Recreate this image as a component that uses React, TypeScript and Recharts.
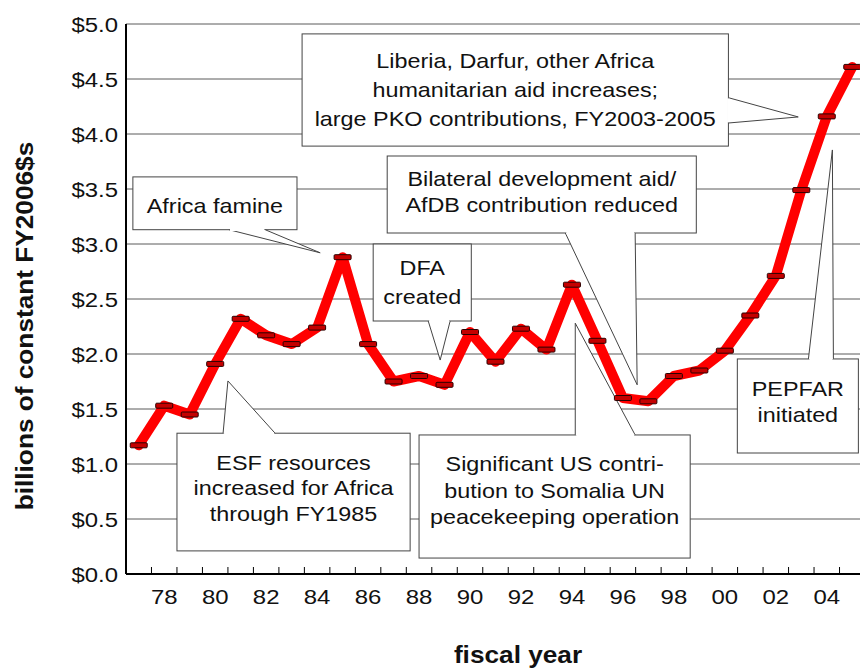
import React from "react";
import { ComposedChart, Line, XAxis, YAxis, CartesianGrid, ReferenceArea, Label } from "recharts";

// US assistance to Africa, billions of constant FY2006 dollars
const fiscalYears = [
  1977, 1978, 1979, 1980, 1981, 1982, 1983, 1984, 1985, 1986,
  1987, 1988, 1989, 1990, 1991, 1992, 1993, 1994, 1995, 1996,
  1997, 1998, 1999, 2000, 2001, 2002, 2003, 2004, 2005,
];
const aidBillions = [
  1.17, 1.53, 1.45, 1.91, 2.32, 2.17, 2.09, 2.24, 2.88, 2.09,
  1.75, 1.8, 1.72, 2.2, 1.93, 2.23, 2.04, 2.63, 2.12, 1.6,
  1.57, 1.8, 1.85, 2.03, 2.35, 2.71, 3.49, 4.16, 4.61,
];
const yTicks = [0, 0.5, 1, 1.5, 2, 2.5, 3, 3.5, 4, 4.5, 5];
const labelYears = [1978, 1980, 1982, 1984, 1986, 1988, 1990, 1992, 1994, 1996, 1998, 2000, 2002, 2004];

const data = fiscalYears.map((year, i) => ({ year, value: aidBillions[i] }));
// tick marks sit on the boundaries between years, labels on even years
const xTicks = [...fiscalYears.slice(1).map((y) => y - 0.5), ...labelYears].sort((a, b) => a - b);

const FONT = "'Liberation Sans', Arial, Helvetica, sans-serif";
const SX = 1.14; // the source font runs a bit wider than Arial

type Callout = {
  lines: string[];
  x1: number;
  x2: number;
  top: number;
  bottom: number;
  tail: [number, number][]; // base, tip, base (year, value)
  gap: number;
  dy: number;
};

const callouts: Callout[] = [
  {
    lines: ["Africa famine"],
    x1: 1976.77, x2: 1983.21, top: 3.61, bottom: 3.13,
    tail: [[1980.54, 3.13], [1984.12, 2.92], [1981.96, 3.13]],
    gap: 0, dy: 2,
  },
  {
    lines: ["Liberia, Darfur, other Africa", "humanitarian aid increases;", "large PKO contributions, FY2003-2005"],
    x1: 1983.41, x2: 2000.14, top: 4.91, bottom: 3.89,
    tail: [[2000.14, 4.33], [2002.88, 4.155], [2000.14, 4.1]],
    gap: 29, dy: 0,
  },
  {
    lines: ["Bilateral development aid/", "AfDB contribution reduced"],
    x1: 1986.75, x2: 1998.88, top: 3.8, bottom: 3.1,
    tail: [[1993.74, 3.1], [1996.56, 1.72], [1996.48, 3.1]],
    gap: 26, dy: -3,
  },
  {
    lines: ["DFA", "created"],
    x1: 1986.2, x2: 1990.05, top: 3.0, bottom: 2.3,
    tail: [[1988.36, 2.3], [1988.83, 1.945], [1989.22, 2.3]],
    gap: 29, dy: 0,
  },
  {
    lines: ["ESF resources", "increased for Africa", "through FY1985"],
    x1: 1978.5, x2: 1987.65, top: 1.28, bottom: 0.21,
    tail: [[1980.31, 1.28], [1980.5, 1.755], [1982.35, 1.28]],
    gap: 25.5, dy: -4,
  },
  {
    lines: ["Significant US contri-", "bution to Somalia UN", "peacekeeping operation"],
    x1: 1988.0, x2: 1998.64, top: 1.264, bottom: 0.145,
    tail: [[1994.13, 1.264], [1994.13, 2.28], [1996.48, 1.264]],
    gap: 26.5, dy: -6,
  },
  {
    lines: ["PEPFAR", "initiated"],
    x1: 2000.49, x2: 2005.24, top: 1.955, bottom: 1.1,
    tail: [[2003.28, 1.955], [2004.22, 3.855], [2004.26, 1.955]],
    gap: 26, dy: -4,
  },
];

function WideText({ x, y, size, bold = false, anchor = "middle", rotate = false, children }: any) {
  return (
    <text
      transform={`translate(${x} ${y})${rotate ? " rotate(-90)" : ""} scale(${SX} 1)`}
      textAnchor={anchor}
      fontSize={size}
      fontWeight={bold ? "bold" : "normal"}
      fontFamily={FONT}
      fill="#111"
    >
      {children}
    </text>
  );
}

function CalloutShape({ x, y, width, height, c }: any) {
  const sx = width / (c.x2 - c.x1);
  const sy = height / (c.top - c.bottom);
  const px = (v: number) => x + (v - c.x1) * sx;
  const py = (v: number) => y + (c.top - v) * sy;
  const [b1, tip, b2] = c.tail.map(([a, b]: [number, number]) => [px(a), py(b)]);
  const len = Math.hypot(b2[0] - b1[0], b2[1] - b1[1]) || 1;
  const ux = (b2[0] - b1[0]) / len;
  const uy = (b2[1] - b1[1]) / len;
  const size = 20.5;
  const cx = x + width / 2;
  const startY = y + height / 2 + c.dy - ((c.lines.length - 1) * c.gap) / 2 + size * 0.36;
  return (
    <g>
      <rect x={x} y={y} width={width} height={height} fill="#fff" stroke="#444" strokeWidth={1} />
      <polyline
        points={`${b1[0]},${b1[1]} ${tip[0]},${tip[1]} ${b2[0]},${b2[1]}`}
        fill="#fff"
        stroke="#444"
        strokeWidth={1}
      />
      <line
        x1={b1[0] + ux}
        y1={b1[1] + uy}
        x2={b2[0] - ux}
        y2={b2[1] - uy}
        stroke="#fff"
        strokeWidth={2.5}
      />
      {c.lines.map((t: string, i: number) => (
        <WideText key={i} x={cx} y={startY + i * c.gap} size={size}>
          {t}
        </WideText>
      ))}
    </g>
  );
}

const XTick = ({ x, y, payload }: any) => {
  const v = payload.value;
  if (v % 1 !== 0) {
    return <line x1={x} x2={x} y1={y - 7} y2={y} stroke="#000" strokeWidth={1} />;
  }
  return (
    <WideText x={x} y={y + 30} size={21}>
      {String(v % 100).padStart(2, "0")}
    </WideText>
  );
};

const YTick = ({ x, y, payload }: any) => (
  <WideText x={x} y={y + 7.5} size={21} anchor="end">
    {`$${payload.value.toFixed(1)}`}
  </WideText>
);

const Marker = ({ cx, cy }: any) => {
  if (cx == null || cy == null) return null;
  return <rect x={cx - 8.5} y={cy - 2.5} width={17} height={5} rx={1} fill="#c40000" stroke="#2a0000" strokeWidth={1} />;
};

export default function App() {
  return (
    <div style={{ position: "absolute", left: 0, top: 0, width: 860, height: 668, overflow: "hidden", background: "#fff" }}>
      <ComposedChart width={865} height={668} data={data} margin={{ top: 24, right: 0, left: 0, bottom: 34 }}>
        <CartesianGrid vertical={false} stroke="#5a5a5a" strokeWidth={1} />
        <XAxis
          dataKey="year"
          type="number"
          domain={[1976.5, 2005.5]}
          ticks={xTicks}
          interval={0}
          tick={<XTick />}
          tickLine={false}
          tickSize={0}
          tickMargin={0}
          height={60}
          axisLine={{ stroke: "#000", strokeWidth: 2 }}
        >
          <Label
            content={() => (
              <WideText x={518} y={663} size={23} bold>
                fiscal year
              </WideText>
            )}
          />
        </XAxis>
        <YAxis
          type="number"
          domain={[0, 5]}
          ticks={yTicks}
          interval={0}
          width={126}
          tick={<YTick />}
          tickLine={false}
          axisLine={{ stroke: "#000", strokeWidth: 2 }}
        >
          <Label
            content={() => (
              <WideText x={33} y={326} size={23} bold rotate>
                billions of constant FY2006$s
              </WideText>
            )}
          />
        </YAxis>
        {callouts.map((c, i) => (
          <ReferenceArea
            key={i}
            x1={c.x1}
            x2={c.x2}
            y1={c.bottom}
            y2={c.top}
            ifOverflow="visible"
            shape={(p: any) => <CalloutShape {...p} c={c} />}
          />
        ))}
        <Line
          dataKey="value"
          stroke="#ff0000"
          strokeWidth={10}
          strokeLinejoin="round"
          strokeLinecap="round"
          dot={<Marker />}
          activeDot={false}
          isAnimationActive={false}
        />
      </ComposedChart>
    </div>
  );
}
